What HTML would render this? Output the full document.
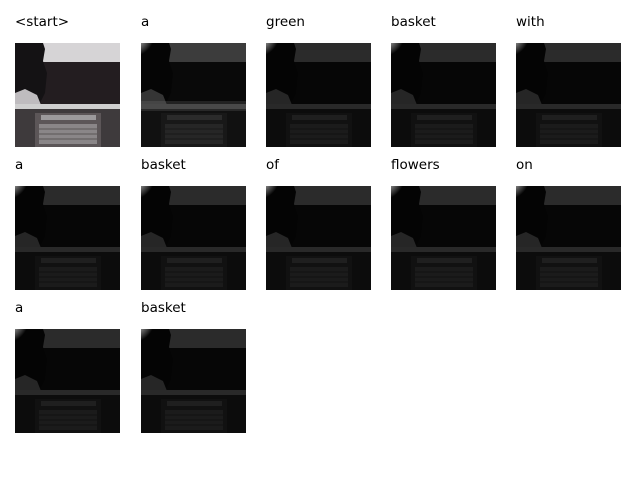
<!DOCTYPE html>
<html><head><meta charset="utf-8">
<style>
body{margin:0;background:#fff;width:640px;height:480px;overflow:hidden;position:relative;font-family:"DejaVu Sans","Liberation Sans",sans-serif}
.t{position:absolute;font-size:13.5px;color:#000;white-space:nowrap;line-height:16px}
svg.im{position:absolute}
</style></head><body>
<svg width="0" height="0" style="position:absolute">
<defs>
<radialGradient id="glow" cx="0" cy="0" r="1"><stop offset="0" stop-color="#fff" stop-opacity="1"/><stop offset="0.5" stop-color="#fff" stop-opacity="0.6"/><stop offset="1" stop-color="#fff" stop-opacity="0"/></radialGradient>
<g id="scene">
<rect x="0" y="0" width="105" height="104" fill="#201c1e"/>
<rect x="0" y="0" width="105" height="19" fill="#d6d4d6"/>
<rect x="0" y="19" width="105" height="42" fill="#231d20"/>
<path d="M0 0 L28 0 L30 6 L28 18 L32 30 L30 50 L24 62 L0 62 Z" fill="#141214"/>
<path d="M0 50 L10 46 L22 52 L26 62 L0 62 Z" fill="#bfbcbf"/>
<rect x="0" y="61" width="105" height="5" fill="#cfcfcf"/>
<rect x="0" y="66" width="105" height="38" fill="#3e3a3c"/>
<rect x="20" y="70" width="66" height="34" fill="#5c5658"/>
<rect x="26" y="72" width="55" height="5" fill="#9c9a9c"/>
<rect x="24" y="81" width="58" height="20" fill="#8a8688"/>
<g stroke="#4a4446" stroke-width="0.8"><line x1="24" y1="86" x2="82" y2="86"/><line x1="24" y1="91" x2="82" y2="91"/><line x1="24" y1="96" x2="82" y2="96"/></g>
</g>
</defs></svg>
<script>
const words=["<start>","a","green","basket","with","a","basket","of","flowers","on","a","basket"];
const colX=[15,141,266,391,516];
const rowY=[43,186,329];
const NS="http://www.w3.org/2000/svg";
words.forEach((w,i)=>{
  const c=i%5,r=Math.floor(i/5);
  const d=document.createElement('div');
  d.className='t';
  d.style.left=colX[c]+'px';d.style.top=(rowY[r]-29)+'px';
  d.textContent=w;
  
  
  document.body.appendChild(d);
  const s=document.createElementNS(NS,'svg');
  s.setAttribute('class','im');
  s.setAttribute('width','105');s.setAttribute('height','104');
  s.setAttribute('viewBox','0 0 105 104');
  s.style.left=colX[c]+'px';s.style.top=rowY[r]+'px';
  
  
  const g=document.createElementNS(NS,'g');
  const u=document.createElementNS(NS,'use');
  u.setAttribute('href','#scene');
  g.appendChild(u);
  s.appendChild(g);
  if(i>0){
    s.style.filter='grayscale(1) brightness('+(i==1?0.28:0.2)+')';
    const s2=document.createElementNS(NS,'svg');
    s2.setAttribute('class','im');
    s2.setAttribute('width','105');s2.setAttribute('height','104');
    s2.style.left=colX[c]+'px';s2.style.top=rowY[r]+'px';
    
    
    const ci=document.createElementNS(NS,'circle');
    ci.setAttribute('cx','2');ci.setAttribute('cy','2');ci.setAttribute('r','12');
    ci.setAttribute('fill','url(#glow)');
    s2.appendChild(ci);
    if(i==1){const rr=document.createElementNS(NS,'rect');rr.setAttribute('x','0');rr.setAttribute('y','58');rr.setAttribute('width','105');rr.setAttribute('height','10');rr.setAttribute('fill','#888');rr.setAttribute('opacity','0.2');s2.appendChild(rr);}
    document.body.appendChild(s);
    document.body.appendChild(s2);
  } else document.body.appendChild(s);
});
</script>
</body></html>
